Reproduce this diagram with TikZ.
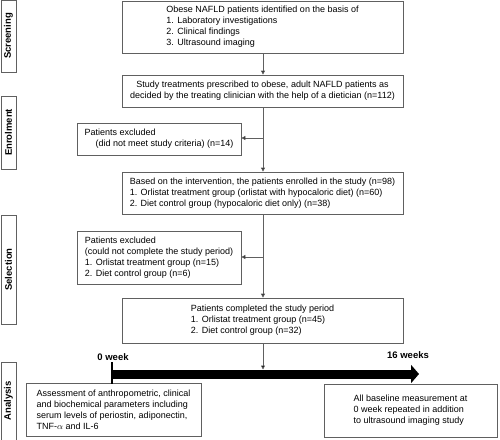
\documentclass[tikz,border=0pt]{standalone}
\usepackage{fontspec}
\setmainfont{Liberation Sans}
\usetikzlibrary{arrows.meta}
\definecolor{edge}{HTML}{606060}
\tikzset{
  x=1pt,y=-1pt,
  box/.style={draw=edge,line width=0.7pt,align=left,inner sep=0pt,font=\fontsize{9}{11}\selectfont},
  stage/.style={draw=edge,line width=0.7pt,inner sep=0pt,font=\bfseries\fontsize{9.5}{11}\selectfont},
  conn/.style={draw=edge,line width=0.7pt,-{Triangle[length=4pt,width=4pt,fill=black]}},
  plain/.style={draw=edge,line width=0.7pt},
  wk/.style={font=\bfseries\fontsize{9.5}{11}\selectfont,inner sep=0pt}
}
\begin{document}
\begin{tikzpicture}
\useasboundingbox (0,0) rectangle (500,439);
% stage labels
\node[stage,minimum width=72pt,minimum height=15pt,rotate=90] (s1) at (8.5,36) {Screening};
\node[stage,minimum width=73pt,minimum height=15pt,rotate=90] (s2) at (8.5,132.5) {Enrolment};
\node[stage,minimum width=109pt,minimum height=15pt,rotate=90] (s3) at (8.5,269.5) {Selection};
\node[stage,minimum width=78pt,minimum height=15pt,rotate=90] (s4) at (8.5,401) {Analysis};
% main boxes
\node[box,minimum width=281pt,minimum height=52pt] (b1) at (262.5,27) {Obese NAFLD patients identified on the basis of\\1. Laboratory investigations\\2. Clinical findings\\3. Ultrasound imaging};
\node[box,minimum width=281pt,minimum height=32pt,align=center] (b2) at (262.5,91) {Study treatments prescribed to obese, adult NAFLD patients as\\decided by the treating clinician with the help of a dietician (n=112)};
\node[box,minimum width=164pt,minimum height=32pt] (e1) at (159,139) {Patients excluded\\\hspace*{11pt}(did not meet study criteria) (n=14)};
\node[box,minimum width=281pt,minimum height=42pt] (b3) at (262.5,193) {Based on the intervention, the patients enrolled in the study (n=98)\\1. Orlistat treatment group (orlistat with hypocaloric diet) (n=60)\\2. Diet control group (hypocaloric diet only) (n=38)};
\node[box,minimum width=164pt,minimum height=53pt] (e2) at (159,257.5) {Patients excluded\\(could not complete the study period)\\1. Orlistat treatment group (n=15)\\2. Diet control group (n=6)};
\node[box,minimum width=281pt,minimum height=45pt] (b4) at (262.5,320.5) {Patients completed the study period\\1. Orlistat treatment group (n=45)\\2. Diet control group (n=32)};
\node[box,minimum width=175pt,minimum height=53pt] (a1) at (113.5,409.5) {Assessment of anthropometric, clinical\\and biochemical parameters including\\serum levels of periostin, adiponectin,\\TNF-$\alpha$ and IL-6};
\node[box,minimum width=173pt,minimum height=53pt] (a2) at (410.5,410.5) {All baseline measurement at\\0 week repeated in addition\\to ultrasound imaging study};
% timeline
\coordinate (t0) at (112,374);
\coordinate (t1) at (419,374);
\coordinate (k0) at (112,362);
\coordinate (k1) at (112,384);
\draw[line width=9pt,-{Triangle[length=8pt,width=18pt]}] (t0) -- (t1);
\draw[line width=2.5pt] (k0) -- (k1);
\node[wk] (w0) at (113,357) {0 week};
\node[wk] (w16) at (408,355) {16 weeks};
% connectors
\draw[conn] (b1.south -| 263,0) -- (b2.north -| 263,0);
\draw[conn] (b2.south -| 263,0) -- (b3.north -| 263,0);
\coordinate (j1) at (263,138);
\draw[conn] (j1) -- (j1 -| e1.east);
\draw[conn] (b3.south -| 263,0) -- (b4.north -| 263,0);
\coordinate (j2) at (263,257);
\draw[conn] (j2) -- (j2 -| e2.east);
\coordinate (tb) at (263,369.5);
\draw[conn] (b4.south -| 263,0) -- (tb);
\end{tikzpicture}
\end{document}
